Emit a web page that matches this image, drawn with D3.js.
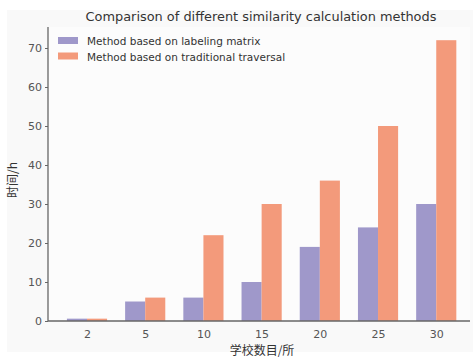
<!DOCTYPE html>
<html><head><meta charset="utf-8">
<script src="https://cdn.jsdelivr.net/npm/d3@7"></script>
<style>body{margin:0;background:#fff}svg{display:block}</style>
</head><body>
<script>
const categories = ["2","5","10","15","20","25","30"];
const labelingMatrix = [0.6, 5, 6, 10, 19, 24, 30];
const traditional = [0.6, 6, 22, 30, 36, 50, 72];
const seriesNames = ["Method based on labeling matrix","Method based on traditional traversal"];
const yTicks = [0,10,20,30,40,50,60,70];
const colors = ["#9f98ca","#f39a7b"];

const W=473,H=357;
const svg=d3.select("body").append("svg").attr("width",W).attr("height",H);
svg.append("rect").attr("x",7).attr("y",10).attr("width",466).attr("height",342).attr("fill","#f9f9f9");
svg.append("rect").attr("x",48).attr("y",27).attr("width",422).attr("height",294).attr("fill","#fcfcfc");

const x=d3.scaleLinear().domain([-0.67,6.58]).range([48,470]);
const y=d3.scaleLinear().domain([0,70]).range([321,48]);
const bw = x(0.345)-x(0);

const g=svg.append("g");
const series=[labelingMatrix,traditional];
series.forEach((vals,si)=>{
  g.selectAll(".b"+si).data(vals).enter().append("rect")
   .attr("x",(d,i)=>x(i)+(si===0?-bw:0))
   .attr("width",bw)
   .attr("y",d=>y(d)).attr("height",d=>y(0)-y(d))
   .attr("fill",colors[si]);
});

const font="'DejaVu Sans', sans-serif";
const yAxis=d3.axisLeft(y).tickValues(yTicks).tickSize(3).tickSizeOuter(0).tickPadding(3);
const ya=svg.append("g").attr("transform","translate(48,0)").call(yAxis);
ya.select(".domain").remove();
ya.selectAll("text").attr("fill","#555").style("font-family",font).style("font-size","11px");
ya.selectAll("line").attr("stroke","#666");
svg.append("line").attr("x1",48).attr("x2",48).attr("y1",27).attr("y2",321).attr("stroke","#666").attr("stroke-width",1.3);

const xAxis=d3.axisBottom(x).tickValues(d3.range(categories.length)).tickFormat(i=>categories[i]).tickSize(0).tickPadding(9);
const xa=svg.append("g").attr("transform","translate(0,321)").call(xAxis);
xa.select(".domain").remove();
xa.selectAll("text").attr("fill","#555").style("font-family",font).style("font-size","11px");
svg.append("line").attr("x1",48).attr("x2",470).attr("y1",321).attr("y2",321).attr("stroke","#666").attr("stroke-width",1.3);

svg.append("text").attr("x",261).attr("y",21).attr("text-anchor","middle").attr("fill","#333")
  .style("font-family",font).style("font-size","12.9px").text("Comparison of different similarity calculation methods");

svg.append("text").attr("transform","translate(17,180) rotate(-90)").attr("text-anchor","middle").attr("fill","#333")
  .style("font-family","'Noto Sans CJK SC', serif").style("font-size","12px").text("时间/h");
svg.append("text").attr("x",262).attr("y",355).attr("text-anchor","middle").attr("fill","#333")
  .style("font-family","'Noto Sans CJK SC', serif").style("font-size","12px").text("学校数目/所");

const leg=svg.append("g");
seriesNames.forEach((n,i)=>{
  leg.append("rect").attr("x",58).attr("y",37+i*15.5).attr("width",20).attr("height",7).attr("fill",colors[i]);
  leg.append("text").attr("x",87).attr("y",45+i*15.5).attr("fill","#333")
    .style("font-family",font).style("font-size","10.5px").text(n);
});
</script>
</body></html>
